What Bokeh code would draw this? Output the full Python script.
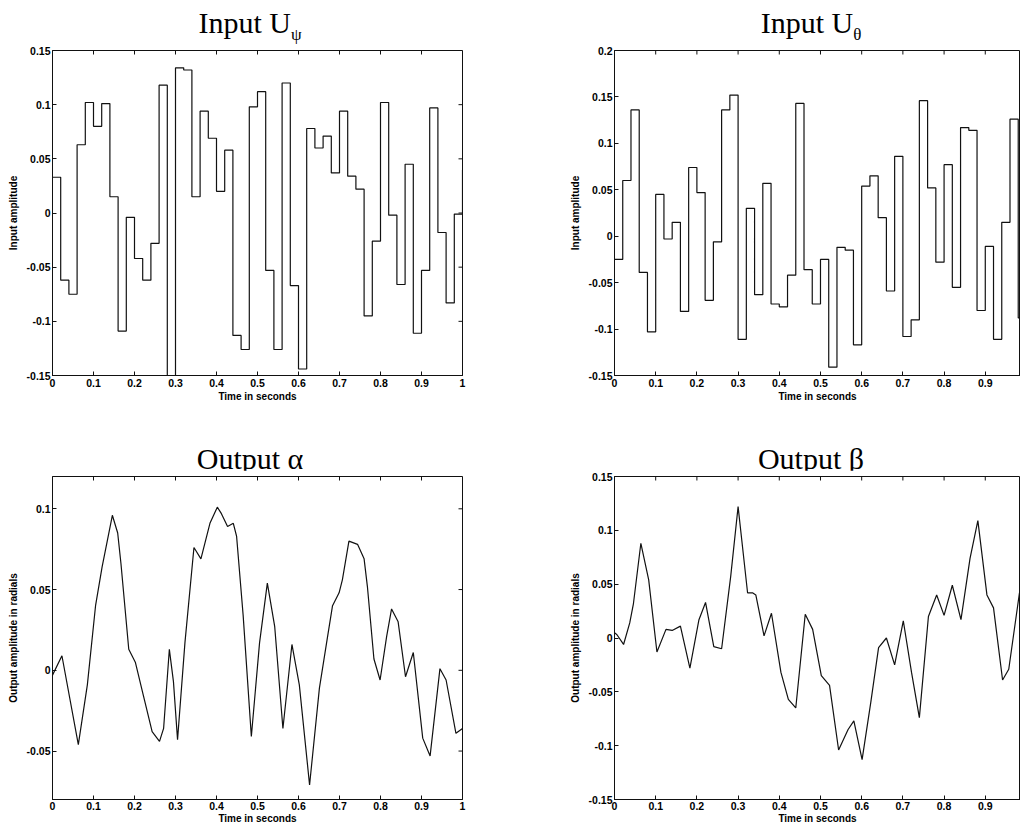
import math
from bokeh.plotting import figure
from bokeh.models import FixedTicker, Range1d, Div
from bokeh.layouts import column, row
from bokeh.embed import file_html
from bokeh.resources import INLINE

# ---------------- data ----------------
step_t = [0.00, 0.02, 0.04, 0.06, 0.08, 0.10, 0.12, 0.14, 0.16, 0.18,
          0.20, 0.22, 0.24, 0.26, 0.28, 0.30, 0.32, 0.34, 0.36, 0.38,
          0.40, 0.42, 0.44, 0.46, 0.48, 0.50, 0.52, 0.54, 0.56, 0.58,
          0.60, 0.62, 0.64, 0.66, 0.68, 0.70, 0.72, 0.74, 0.76, 0.78,
          0.80, 0.82, 0.84, 0.86, 0.88, 0.90, 0.92, 0.94, 0.96, 0.98, 1.00]

u_psi = [0.033, -0.062, -0.075, 0.063, 0.102, 0.080, 0.101, 0.015, -0.109, -0.004,
         -0.042, -0.062, -0.028, 0.118, -0.150, 0.134, 0.132, 0.015, 0.094, 0.069,
         0.020, 0.058, -0.113, -0.126, 0.098, 0.112, -0.053, -0.126, 0.120, -0.067,
         -0.144, 0.078, 0.060, 0.071, 0.037, 0.094, 0.034, 0.022, -0.095, -0.026,
         0.102, -0.002, -0.066, 0.045, -0.111, -0.053, 0.097, -0.018, -0.083, -0.001, 0.040]

u_theta = [-0.025, 0.060, 0.136, -0.039, -0.103, 0.045, -0.003, 0.015, -0.081, 0.074,
           0.047, -0.069, -0.006, 0.136, 0.152, -0.111, 0.030, -0.063, 0.057, -0.073,
           -0.076, -0.042, 0.143, -0.036, -0.073, -0.025, -0.141, -0.012, -0.015, -0.117,
           0.054, 0.065, 0.020, -0.059, 0.086, -0.108, -0.090, 0.146, 0.052, -0.028,
           0.077, -0.055, 0.117, 0.114, -0.080, -0.011, -0.111, 0.015, 0.126, -0.088, -0.088]

alpha_t = [0.000, 0.023, 0.063, 0.085, 0.105, 0.121, 0.146, 0.159, 0.167, 0.186,
           0.202, 0.222, 0.243, 0.261, 0.271, 0.285, 0.295, 0.305, 0.323, 0.345,
           0.362, 0.384, 0.402, 0.412, 0.427, 0.441, 0.449, 0.465, 0.485, 0.505,
           0.524, 0.542, 0.562, 0.584, 0.602, 0.627, 0.651, 0.671, 0.683, 0.699,
           0.707, 0.723, 0.744, 0.760, 0.768, 0.784, 0.799, 0.815, 0.827, 0.843,
           0.861, 0.880, 0.903, 0.921, 0.945, 0.960, 0.984, 1.000]
alpha_v = [-0.003, 0.009, -0.046, -0.009, 0.040, 0.064, 0.096, 0.085, 0.066, 0.013,
           0.005, -0.016, -0.038, -0.044, -0.036, 0.013, -0.007, -0.043, 0.017, 0.076,
           0.069, 0.091, 0.101, 0.097, 0.089, 0.091, 0.083, 0.034, -0.041, 0.017,
           0.054, 0.027, -0.036, 0.016, -0.009, -0.071, -0.011, 0.021, 0.040, 0.048,
           0.056, 0.080, 0.078, 0.069, 0.052, 0.007, -0.006, 0.021, 0.038, 0.030,
           -0.004, 0.011, -0.042, -0.053, 0.001, -0.006, -0.039, -0.036]

beta_t = [0.000, 0.006, 0.022, 0.037, 0.046, 0.064, 0.083, 0.103, 0.125, 0.140,
          0.160, 0.183, 0.205, 0.221, 0.241, 0.260, 0.282, 0.300, 0.323, 0.335,
          0.343, 0.363, 0.381, 0.404, 0.422, 0.440, 0.463, 0.481, 0.502, 0.522,
          0.544, 0.567, 0.581, 0.601, 0.622, 0.641, 0.660, 0.680, 0.701, 0.721,
          0.740, 0.762, 0.782, 0.800, 0.820, 0.841, 0.863, 0.882, 0.904, 0.920,
          0.942, 0.957, 0.983, 0.989]
beta_v = [0.005, 0.003, -0.006, 0.014, 0.032, 0.088, 0.054, -0.013, 0.008, 0.007,
          0.011, -0.028, 0.017, 0.033, -0.008, -0.010, 0.057, 0.122, 0.042, 0.042,
          0.040, 0.002, 0.023, -0.032, -0.057, -0.065, 0.022, 0.008, -0.035, -0.044,
          -0.104, -0.085, -0.077, -0.113, -0.060, -0.009, 0.000, -0.025, 0.016, -0.032,
          -0.074, 0.020, 0.040, 0.021, 0.049, 0.017, 0.074, 0.109, 0.040, 0.028,
          -0.039, -0.029, 0.042, 0.026]

x_ticks = [0, 0.1, 0.2, 0.3, 0.4, 0.5, 0.6, 0.7, 0.8, 0.9, 1]
x_tick_labels = ["0", "0.1", "0.2", "0.3", "0.4", "0.5", "0.6", "0.7", "0.8", "0.9", "1"]

yt_psi = [-0.15, -0.1, -0.05, 0, 0.05, 0.1, 0.15]
yl_psi = ["-0.15", "-0.1", "-0.05", "0", "0.05", "0.1", "0.15"]
yt_theta = [-0.15, -0.1, -0.05, 0, 0.05, 0.1, 0.15, 0.2]
yl_theta = ["-0.15", "-0.1", "-0.05", "0", "0.05", "0.1", "0.15", "0.2"]
yt_alpha = [-0.05, 0, 0.05, 0.1]
yl_alpha = ["-0.05", "0", "0.05", "0.1"]
yt_beta = [-0.15, -0.1, -0.05, 0, 0.05, 0.1, 0.15]
yl_beta = ["-0.15", "-0.1", "-0.05", "0", "0.05", "0.1", "0.15"]

# ---------------- styling helpers ----------------
SANS = "Liberation Sans"
INK = "#111111"


def style_axis(ax, ticks, labels):
    ax.ticker = FixedTicker(ticks=ticks)
    ax.major_label_overrides = {t: l for t, l in zip(ticks, labels)}
    ax.major_tick_in = 4
    ax.major_tick_out = 0
    ax.minor_tick_line_color = None
    ax.major_tick_line_color = INK
    ax.axis_line_color = INK
    ax.major_label_text_font = SANS
    ax.major_label_text_font_style = "bold"
    ax.major_label_text_font_size = "10.5px"
    ax.major_label_text_color = "black"
    ax.axis_label_text_font = SANS
    ax.axis_label_text_font_style = "bold"
    ax.axis_label_text_font_size = "10px"
    ax.axis_label_text_color = "black"


def make_fig(width, height, left, right, top, bottom, xr, yr, yticks, ylabels,
             ylab, box_right, x_std=3, xl_std=1):
    p = figure(width=width, height=height, x_range=Range1d(*xr), y_range=Range1d(*yr),
               output_backend="svg", toolbar_location=None, tools="",
               min_border_left=left, min_border_right=right,
               min_border_top=top, min_border_bottom=bottom,
               background_fill_color="white", border_fill_color="white")
    p.grid.visible = False
    p.outline_line_color = INK
    p.outline_line_width = 1
    xa = p.xaxis[0]
    ya = p.yaxis[0]
    style_axis(xa, x_ticks, x_tick_labels)
    style_axis(ya, yticks, ylabels)
    xa.axis_label = "Time in seconds"
    xa.major_label_standoff = x_std
    xa.axis_label_standoff = xl_std
    ya.axis_label = ylab
    ya.major_label_standoff = 2
    ya.axis_label_standoff = 5
    # inward tick marks on the top edge (box style)
    tx = [t for t in x_ticks if xr[0] <= t <= xr[1]]
    p.ray(x=tx, y=[yr[1]] * len(tx), length=4, length_units="screen",
          angle=-math.pi / 2, line_color=INK, line_width=1)
    if box_right:
        ty = [t for t in yticks if yr[0] <= t <= yr[1]]
        p.ray(x=[xr[1]] * len(ty), y=ty, length=4, length_units="screen",
              angle=math.pi, line_color=INK, line_width=1)
    return p


def title_div(html, width, height, pad_top, pad_left, pad_right):
    inner = ('<div style="font-family:\'Liberation Serif\',\'Times New Roman\',serif;'
             'font-size:30px;line-height:30px;color:#000;text-align:center;'
             'box-sizing:border-box;width:%dpx;padding-top:%dpx;padding-left:%dpx;'
             'padding-right:%dpx;white-space:nowrap;">%s</div>'
             % (width, pad_top, pad_left, pad_right, html))
    return Div(text=inner, width=width, height=height, margin=(0, 0, 0, 0))


LW = 520
RW = 500
R_END = 0.9855

# top-left
d_tl = title_div('Input U<sub style="font-size:17px;">&psi;</sub>', LW, 44, 8, 0, 20)
p_tl = make_fig(LW, 386, 51, 58, 6, 55, (0, 1), (-0.15, 0.15), yt_psi, yl_psi,
                "Input amplitude", True)
p_tl.step(step_t, u_psi, mode="after", line_color=INK, line_width=1.2)

# top-right
d_tr = title_div('Input U<sub style="font-size:17px;">&theta;</sub>', RW, 44, 8, 82, 0)
p_tr = make_fig(RW, 386, 93, 0, 6, 55, (0, R_END), (-0.15, 0.2), yt_theta, yl_theta,
                "Input amplitude", False)
p_tr.step(step_t, u_theta, mode="after", line_color=INK, line_width=1.2)

# bottom-left
d_bl = title_div('Output &alpha;', LW, 40, 14, 0, 20)
p_bl = make_fig(LW, 356, 52, 56, 6, 25, (0, 1), (-0.08, 0.12), yt_alpha, yl_alpha,
                "Output amplitude in radials", True, x_std=2, xl_std=0)
p_bl.line(alpha_t, alpha_v, line_color=INK, line_width=1.2)

# bottom-right
d_br = title_div('Output &beta;', RW, 40, 14, 82, 0)
p_br = make_fig(RW, 356, 94, 0, 6, 25, (0, R_END), (-0.15, 0.15), yt_beta, yl_beta,
                "Output amplitude in radials", False, x_std=2, xl_std=0)
p_br.line(beta_t, beta_v, line_color=INK, line_width=1.2)

left_col = column(d_tl, p_tl, d_bl, p_bl, spacing=0)
right_col = column(d_tr, p_tr, d_br, p_br, spacing=0)
layout = row(left_col, right_col, spacing=0)

open("out.html", "w").write(file_html(layout, INLINE, "Inputs and outputs"))
